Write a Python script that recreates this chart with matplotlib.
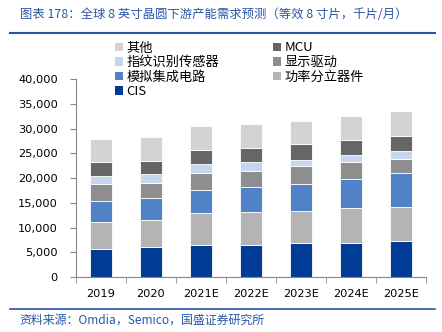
import matplotlib.pyplot as plt
import numpy as np
from matplotlib.patches import Patch

plt.rcParams["font.family"] = ["DejaVu Sans", "Noto Sans CJK SC"]

years = ["2019", "2020", "2021E", "2022E", "2023E", "2024E", "2025E"]
cis = [5630, 6100, 6500, 6500, 6780, 6900, 7190]
power = [5460, 5330, 6350, 6620, 6540, 7090, 6940]
analog = [4310, 4580, 4720, 5000, 5530, 5810, 6820]
display = [3390, 3040, 3380, 3230, 3520, 3440, 2960]
finger = [1550, 1690, 1820, 1890, 1340, 1480, 1560]
mcu = [2900, 2760, 2960, 2830, 3230, 3030, 3090]
other = [4720, 4740, 4800, 4860, 4600, 4740, 4940]

series = [
    ("CIS", cis, "#003C96"),
    ("功率分立器件", power, "#B4B4B4"),
    ("模拟集成电路", analog, "#4F82C6"),
    ("显示驱动", display, "#8E8E8E"),
    ("指纹识别传感器", finger, "#C6D6EE"),
    ("MCU", mcu, "#666666"),
    ("其他", other, "#D4D2D4"),
]

BLUE = "#2A55A5"
CJK = ["Noto Sans CJK SC", "DejaVu Sans"]

fig = plt.figure(figsize=(4.42, 3.32), dpi=100)
ax = fig.add_axes([0.172, 0.166, 0.792, 0.595])

x = np.arange(len(years))
bottom = np.zeros(len(years))
handles = {}
for name, vals, color in series:
    ax.bar(x, vals, width=0.43, bottom=bottom, color=color, edgecolor="white", linewidth=0.6)
    handles[name] = Patch(facecolor=color, edgecolor="none", label=name)
    bottom += np.array(vals)

ax.set_xlim(-0.5, 6.5)
ax.set_ylim(0, 40000)
ax.set_yticks(np.arange(0, 40001, 5000))
ax.set_yticklabels([f"{v:,}" for v in range(0, 40001, 5000)], fontsize=8.2)
ax.set_xticks(x)
ax.set_xticklabels(years, fontsize=8.2)
ax.set_xticks(np.arange(-0.5, 7, 1), minor=True)
ax.tick_params(axis="x", which="major", length=0, pad=9)
ax.tick_params(axis="x", which="minor", length=4, color="#888888")
ax.tick_params(axis="y", length=4, color="#888888", pad=9)
for s in ["top", "right"]:
    ax.spines[s].set_visible(False)
for s in ["left", "bottom"]:
    ax.spines[s].set_color("#888888")
    ax.spines[s].set_linewidth(0.8)

order = ["其他", "指纹识别传感器", "模拟集成电路", "CIS", "MCU", "显示驱动", "功率分立器件"]
fig.legend(
    handles=[handles[n] for n in order],
    loc="upper left",
    bbox_to_anchor=(0.245, 0.895),
    ncol=2,
    frameon=False,
    prop={"family": CJK, "size": 9.5},
    handlelength=0.6,
    handleheight=0.6,
    handletextpad=0.25,
    labelspacing=0.12,
    columnspacing=4.1,
    borderpad=0,
)

fig.text(0.045, 0.957, "图表 178：全球 8 英寸晶圆下游产能需求预测（等效 8 寸片，千片/月）",
         fontsize=8.9, color=BLUE, family=CJK, style="italic", va="center")
fig.add_artist(plt.Line2D([0.022, 0.985], [0.9, 0.9], color=BLUE, linewidth=1.5))
fig.add_artist(plt.Line2D([0.022, 0.985], [0.069, 0.069], color=BLUE, linewidth=1.2))
fig.text(0.045, 0.036, "资料来源：Omdia，Semico，国盛证券研究所",
         fontsize=8.6, color=BLUE, family=CJK, style="italic", va="center")

fig.savefig("out.png", dpi=100)
